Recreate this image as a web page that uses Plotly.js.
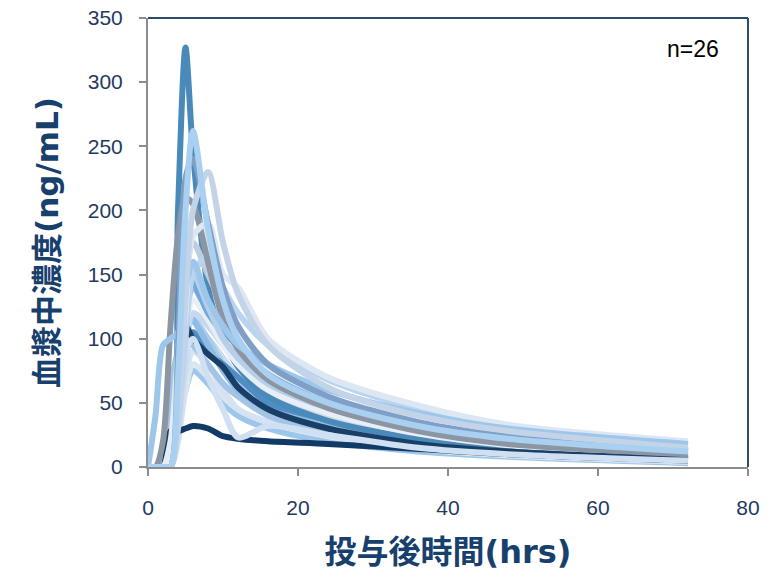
<!DOCTYPE html>
<html>
<head>
<meta charset="utf-8">
<script src="https://cdn.plot.ly/plotly-3.0.1.min.js"></script>
<style>html,body{margin:0;padding:0;background:#fff;}#chart{width:774px;height:587px;}</style>
</head>
<body>
<div id="chart"></div>
<script>
// Sampling times (hrs)
const times = [0,1,2,3,4,5,6,8,10,12,16,24,36,48,72];

// Plasma concentration (ng/mL) per subject
const s01 = [0,0,0,0,200,327,245,140,100,78,55,36,22,14,7];
const s02 = [0,0,0,0,70,200,262,185,130,100,72,50,32,22,12];
const s03 = [0,0,0,0,90,225,240,190,140,110,80,55,35,24,13];
const s04 = [0,0,0,0,30,130,200,230,175,135,95,62,40,28,15];
const s05 = [0,0,20,110,180,210,205,160,115,92,68,46,28,18,10];
const s06 = [0,0,0,28,28,30,32,30,24,22,20,18,14,10,5];
const s07 = [0,40,95,100,105,140,160,130,110,95,80,60,42,30,18];
const s08 = [0,0,0,0,100,150,145,120,105,95,75,52,34,22,12];
const s09 = [0,0,0,0,60,120,180,190,150,140,100,70,48,33,20];
const s10 = [0,0,0,0,40,100,150,165,140,120,95,68,45,30,17];
const s11 = [0,0,0,0,50,100,105,90,80,70,50,33,20,13,6];
const s12 = [0,0,0,0,60,110,100,88,78,62,45,30,18,12,6];
const s13 = [0,0,0,0,40,90,100,70,45,23,32,25,15,10,5];
const s14 = [0,0,0,0,80,120,115,95,75,60,45,32,20,13,7];
const s15 = [0,0,0,20,90,170,200,170,130,105,78,55,36,24,13];
const s16 = [0,0,0,0,50,110,140,120,100,85,65,45,28,18,9];
const s17 = [0,0,0,0,30,80,105,100,85,70,52,36,22,14,7];
const s18 = [0,0,0,0,40,90,120,110,95,80,60,40,25,16,8];
const s19 = [0,0,10,60,90,100,95,80,65,55,40,28,17,11,5];
const s20 = [0,0,0,0,20,70,90,80,60,45,35,25,15,10,4];
const s21 = [0,0,0,0,30,60,75,65,50,40,30,20,12,8,3];
const s22 = [0,0,0,0,70,150,175,150,125,105,80,55,36,24,13];
const s23 = [0,0,0,0,40,110,130,115,95,80,60,42,26,17,9];
const s24 = [0,0,0,0,60,140,150,125,100,85,65,46,30,20,11];
const s25 = [0,0,0,0,50,100,115,100,80,65,50,35,22,14,8];
const s26 = [0,0,0,0,20,60,80,70,55,45,35,24,14,9,4];

const subjects = [s21,s26,s20,s17,s25,s19,s11,s14,s18,s01,s16,s23,s12,s06,s13,s08,s24,s22,s10,s15,s05,s09,s07,s03,s04,s02];
const colors = ['#9cc6ea','#dbe5f0','#d4e2f1','#c9dcf0','#aecbe8','#a3c4e4','#4f8dc4','#8dbde6','#c5d8ee','#4a8ab8','#9fb8d8','#e8eef6','#1a3f66','#123a66','#cfe0f2','#6fa8dc','#b4cfea','#bfcde0','#b8d4ef','#e4ecf5','#8c96a3','#dde7f3','#9cc6ea','#7f9fc6','#c3d3e8','#a9d0f0'];

const tickVals = [0,50,100,150,200,250,300,350];
const xTickVals = [0,20,40,60,80];

const traces = subjects.map((ys, i) => ({
  x: times, y: ys, type: 'scatter', mode: 'lines',
  line: {shape: 'spline', smoothing: 0.8, width: 6, color: colors[i]},
  hoverinfo: 'skip', showlegend: false
}));

const tickFont = {family: 'Liberation Sans, Arial, sans-serif', size: 21, color: '#1f3a5f'};
const titleFont = {family: 'DejaVu Sans, Noto Sans CJK JP, sans-serif', size: 31, color: '#17406d', weight: 'bold'};

const layout = {
  width: 774, height: 587,
  margin: {l: 148, r: 26, t: 18, b: 120},
  paper_bgcolor: '#fff', plot_bgcolor: '#fff',
  showlegend: false,
  xaxis: {
    range: [0, 80], tickvals: xTickVals, ticks: 'outside', ticklen: 7, tickcolor: '#8c8c8c', tickwidth: 2,
    showline: true, linecolor: '#8c8c8c', linewidth: 2, showgrid: false, zeroline: false,
    tickfont: tickFont, ticklabelstandoff: 14,
    title: {text: '<b>投与後時間(hrs)</b>', font: {family: titleFont.family, size: 32, color: titleFont.color}, standoff: 22}
  },
  yaxis: {
    range: [0, 350], tickvals: tickVals, ticks: 'outside', ticklen: 7, tickcolor: '#8c8c8c', tickwidth: 2,
    showline: true, linecolor: '#8c8c8c', linewidth: 2, showgrid: false, zeroline: false,
    tickfont: tickFont, ticklabelstandoff: 12,
    title: {text: '<b>血漿中濃度(ng/mL)</b>', font: titleFont, standoff: 20}
  },
  shapes: [
    {type: 'line', xref: 'paper', yref: 'paper', x0: 0, x1: 1, y0: 1, y1: 1, line: {color: '#2c4a6a', width: 2}},
    {type: 'line', xref: 'paper', yref: 'paper', x0: 1, x1: 1, y0: 0, y1: 1, line: {color: '#2c4a6a', width: 2}}
  ],
  annotations: [
    {text: 'n=26', xref: 'paper', yref: 'paper', x: 0.955, y: 0.93, xanchor: 'right', yanchor: 'middle',
     showarrow: false, font: {family: 'Liberation Sans, Arial, sans-serif', size: 23, color: '#000'}}
  ]
};

Plotly.newPlot('chart', traces, layout, {staticPlot: true, displayModeBar: false});
</script>
</body>
</html>
